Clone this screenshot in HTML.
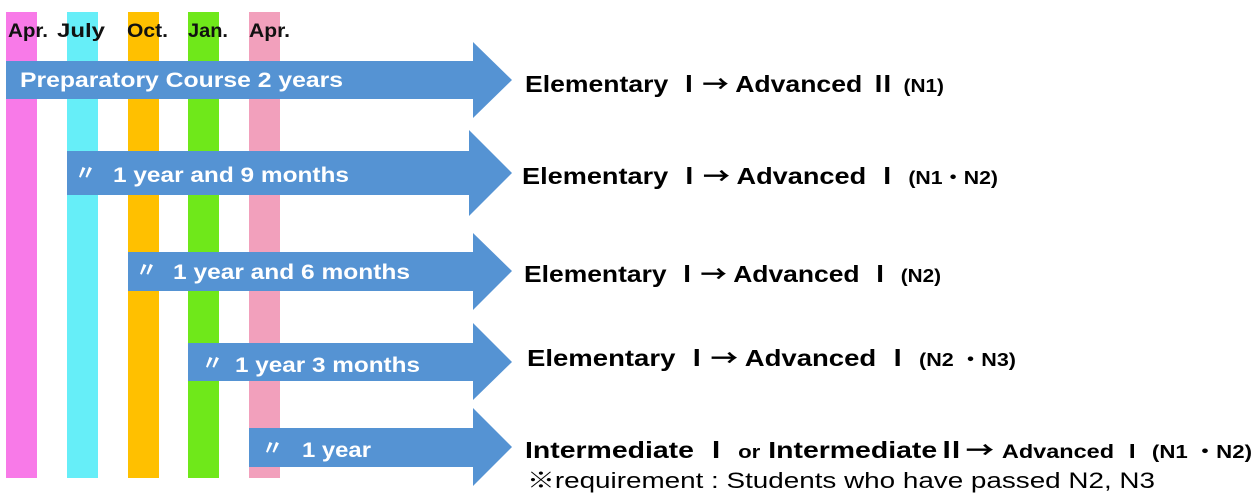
<!DOCTYPE html>
<html><head><meta charset="utf-8"><style>
html,body{margin:0;padding:0;background:#fff;}
svg{display:block;}
.w{fill:#fff;font-family:"Liberation Sans","Noto Sans CJK JP",sans-serif;font-weight:bold;font-size:21px;}
.m{fill:#111;font-family:"Liberation Sans","Noto Sans CJK JP",sans-serif;font-weight:bold;font-size:19px;}
.b{fill:#000;font-family:"Liberation Sans","Noto Sans CJK JP",sans-serif;font-weight:bold;font-size:23px;}
.n{fill:#000;font-family:"Liberation Sans","Noto Sans CJK JP",sans-serif;font-size:22px;}
.a{font-family:"Noto Sans CJK JP",sans-serif;font-weight:bold;}
</style></head><body>
<svg width="1258" height="497" viewBox="0 0 1258 497" xmlns="http://www.w3.org/2000/svg">
<rect x="6" y="12" width="31" height="466" fill="#f87ae8"/>
<rect x="67" y="12" width="31" height="466" fill="#66eef8"/>
<rect x="128" y="12" width="31" height="466" fill="#ffc000"/>
<rect x="188" y="12" width="31" height="466" fill="#6fe81a"/>
<rect x="249" y="12" width="31" height="466" fill="#f2a0bc"/>
<text class="m" x="8" y="37" textLength="40" lengthAdjust="spacingAndGlyphs">Apr.</text>
<text class="m" x="57" y="37" textLength="48" lengthAdjust="spacingAndGlyphs">July</text>
<text class="m" x="127" y="37" textLength="41" lengthAdjust="spacingAndGlyphs">Oct.</text>
<text class="m" x="188" y="37" textLength="40" lengthAdjust="spacingAndGlyphs">Jan.</text>
<text class="m" x="249" y="37" textLength="41" lengthAdjust="spacingAndGlyphs">Apr.</text>
<g fill="#5593d3">
<polygon points="6,61 473,61 473,42 512,80 473,118 473,99 6,99"/>
<polygon points="67,151 469,151 469,130 512,173 469,216 469,195 67,195"/>
<polygon points="128,252 473,252 473,233 512,271 473,310 473,291 128,291"/>
<polygon points="188,343 473,343 473,323 512,362 473,400 473,381 188,381"/>
<polygon points="249,428 473,428 473,408 512,447 473,486 473,467 249,467"/>
</g>
<text class="w" x="20" y="87" textLength="323" lengthAdjust="spacingAndGlyphs">Preparatory Course  2 years</text>
<text class="w" x="75" y="180" font-size="16">〃</text>
<text class="w" x="113" y="182" textLength="236" lengthAdjust="spacingAndGlyphs">1 year and 9 months</text>
<text class="w" x="136" y="277" font-size="16">〃</text>
<text class="w" x="173" y="279" textLength="237" lengthAdjust="spacingAndGlyphs">1 year and 6 months</text>
<text class="w" x="202" y="370" font-size="16">〃</text>
<text class="w" x="235" y="372" textLength="185" lengthAdjust="spacingAndGlyphs">1 year 3 months</text>
<text class="w" x="262" y="455" font-size="16">〃</text>
<text class="w" x="302" y="457" textLength="69" lengthAdjust="spacingAndGlyphs">1 year</text>
<text class="b" x="525" y="92" textLength="419" lengthAdjust="spacingAndGlyphs">Elementary Ⅰ<tspan class="a">→</tspan> Advanced Ⅱ <tspan font-size="18">(N1)</tspan></text>
<text class="b" x="522" y="184" textLength="476" lengthAdjust="spacingAndGlyphs">Elementary Ⅰ<tspan class="a">→</tspan> Advanced Ⅰ <tspan font-size="18">(N1・N2)</tspan></text>
<text class="b" x="524" y="282" textLength="417" lengthAdjust="spacingAndGlyphs">Elementary Ⅰ<tspan class="a">→</tspan> Advanced Ⅰ <tspan font-size="18">(N2)</tspan></text>
<text class="b" x="527" y="366" textLength="489" lengthAdjust="spacingAndGlyphs">Elementary Ⅰ<tspan class="a">→</tspan> Advanced Ⅰ <tspan font-size="18">(N2 ・N3)</tspan></text>
<text class="b" x="525" y="458" textLength="727" lengthAdjust="spacingAndGlyphs">Intermediate Ⅰ <tspan font-size="18">or</tspan> IntermediateⅡ<tspan class="a">→</tspan> <tspan font-size="19">Advanced Ⅰ</tspan>  <tspan font-size="18">(N1 ・N2)</tspan></text>
<text class="n" x="527" y="488" textLength="628" lengthAdjust="spacingAndGlyphs">※requirement : Students who have passed N2, N3</text>
</svg>
</body></html>
